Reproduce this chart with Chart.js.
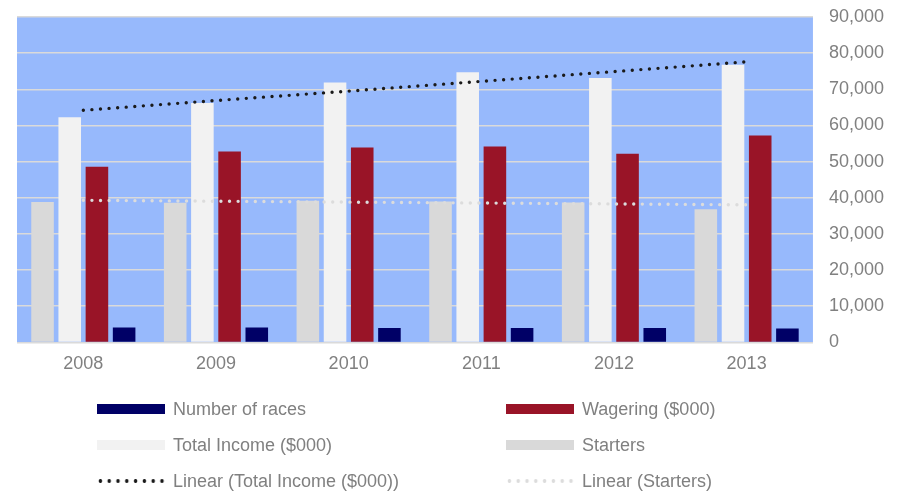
<!DOCTYPE html>
<html>
<head>
<meta charset="utf-8">
<script src="https://cdn.jsdelivr.net/npm/chart.js@4.4.0/dist/chart.umd.min.js"></script>
<style>
    body { margin: 0; background: #fff; }
    #wrap { position: relative; width: 904px; height: 491px; }
    #legend { position: absolute; left: 0; top: 0; width: 904px; height: 491px; pointer-events: none;
        font-family: "Liberation Sans", Arial, sans-serif; font-size: 18px; color: #808080; }
    .item { position: absolute; height: 22px; line-height: 22px; white-space: nowrap; }
    .swatch { position: absolute; left: 0; top: 6px; width: 68px; height: 10px; }
    .dots { position: absolute; left: -1px; top: 8px; width: 70px; height: 6px; background-size: 8.8px 6px; }
    .item span { position: absolute; left: 76px; top: 0; }
</style>
</head>
<body>
<div id="wrap">
    <canvas id="chart" width="904" height="491"></canvas>
    <div id="legend"></div>
</div>
<script>
// categories
const years = ['2008', '2009', '2010', '2011', '2012', '2013'];

// series values
const starters    = [38800, 38600, 39200, 39000, 38700, 36800];
const totalIncome = [62300, 66200, 71900, 74700, 73100, 76800];
const wagering    = [48600, 52800, 53900, 54200, 52200, 57200];
const races       = [4150, 4150, 4000, 4000, 3950, 3850];

// trend lines as drawn in the picture
const totalTrend    = [64200, 66900, 69500, 72200, 74900, 77600];
const startersTrend = [39300, 39050, 38800, 38550, 38300, 38050];

// y axis ticks
const yMin = 0;
const yMax = 90000;
const yStep = 10000;

const textColor = '#808080';
const fontFamily = '"Liberation Sans", Arial, sans-serif';

// paint the blue plot background
const plotBg = {
    id: 'plotBg',
    beforeDraw(chart) {
        const a = chart.chartArea;
        const ctx = chart.ctx;
        ctx.save();
        ctx.fillStyle = '#97b9fc';
        ctx.fillRect(a.left, a.top, a.right - a.left, a.bottom - a.top);
        ctx.restore();
    }
};

function barSet(label, data, color) {
    return {
        type: 'bar',
        label: label,
        data: data,
        backgroundColor: color,
        borderWidth: 0,
        categoryPercentage: 0.82,
        barPercentage: 0.83,
        order: 1
    };
}

function trendSet(label, data, color) {
    return {
        type: 'line',
        label: label,
        data: data,
        borderColor: color,
        borderWidth: 3.4,
        borderDash: [0, 8.6],
        borderCapStyle: 'round',
        pointRadius: 0,
        fill: false,
        tension: 0,
        order: 0
    };
}

const datasets = [
    barSet('Starters', starters, '#d9d9d9'),
    barSet('Total Income ($000)', totalIncome, '#f2f2f2'),
    barSet('Wagering ($000)', wagering, '#991427'),
    barSet('Number of races', races, '#000066'),
    trendSet('Linear (Total Income ($000))', totalTrend, '#1a1a1a'),
    trendSet('Linear (Starters)', startersTrend, '#dcdcdc')
];

const chart = new Chart(document.getElementById('chart'), {
    type: 'bar',
    data: { labels: years, datasets: datasets },
    plugins: [plotBg],
    options: {
        responsive: false,
        animation: false,
        layout: { padding: { left: 17, top: 17, right: 4, bottom: 113 } },
        plugins: {
            legend: { display: false },
            tooltip: { enabled: false }
        },
        scales: {
            x: {
                grid: { display: false },
                border: { display: false },
                ticks: { color: textColor, font: { family: fontFamily, size: 18 }, padding: 3 }
            },
            y: {
                position: 'right',
                min: yMin,
                max: yMax,
                grid: { color: '#dadada', lineWidth: 1.5, drawTicks: false },
                border: { display: false },
                ticks: {
                    stepSize: yStep,
                    color: textColor,
                    font: { family: fontFamily, size: 18 },
                    padding: 16,
                    callback: function(v) { return v.toLocaleString('en-US'); }
                },
                // top/bottom label overhang is already covered by the layout padding
                afterFit: function(scale) {
                    scale.paddingTop = 0;
                    scale.paddingBottom = 0;
                }
            }
        }
    }
});

// html legend in two columns, built from the datasets
const legendOrder = [3, 2, 1, 0, 4, 5];
const colLeft = [97, 506];
const rowTop = [398, 434, 470];

function buildLegend() {
    const box = document.getElementById('legend');
    legendOrder.forEach(function(idx, i) {
        const ds = chart.data.datasets[idx];
        const item = document.createElement('div');
        item.className = 'item';
        item.style.left = colLeft[i % 2] + 'px';
        item.style.top = rowTop[Math.floor(i / 2)] + 'px';
        const sw = document.createElement('div');
        if (ds.type === 'line') {
            sw.className = 'dots';
            sw.style.backgroundImage = 'radial-gradient(circle at 4.4px 3px, ' + ds.borderColor + ' 1.6px, transparent 2.1px)';
        } else {
            sw.className = 'swatch';
            sw.style.background = ds.backgroundColor;
        }
        const txt = document.createElement('span');
        txt.textContent = ds.label;
        item.appendChild(sw);
        item.appendChild(txt);
        box.appendChild(item);
    });
}

buildLegend();
</script>
</body>
</html>
